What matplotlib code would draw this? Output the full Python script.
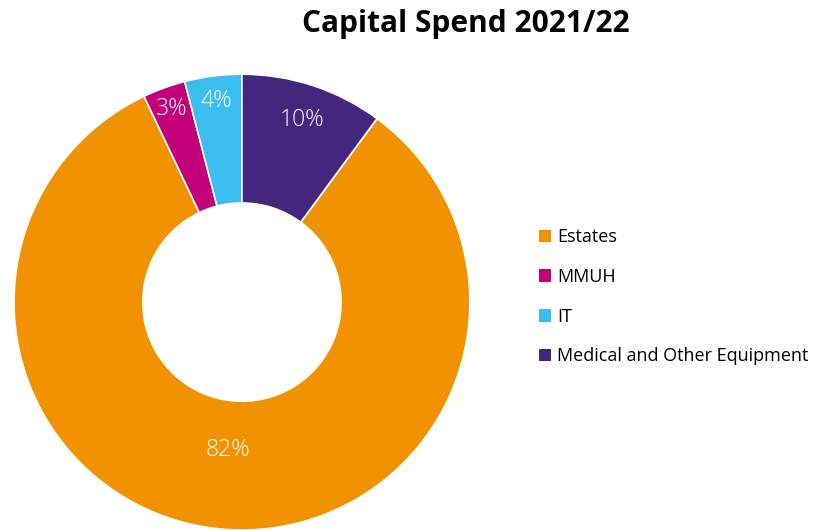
import numpy as np
import matplotlib.pyplot as plt
from matplotlib.patches import Patch

plt.rcParams['font.family'] = ['Open Sans', 'DejaVu Sans']

categories = ["Estates", "MMUH", "IT", "Medical and Other Equipment"]
shares = [82, 3, 4, 10]
pct_labels = ["82%", "3%", "4%", "10%"]
colors = ["#F39200", "#C2007A", "#3BBDEF", "#44267E"]
label_radius = [0.65, 0.90, 0.89, 0.84]

fig = plt.figure(figsize=(8.14, 5.30), dpi=100)
fig.patch.set_facecolor("white")

ax = fig.add_axes([0.0172, 0.0, 0.560, 0.860])
total = sum(shares)
# start so the last category (equipment) sits just right of 12 o'clock
start = 90 - 360 * shares[-1] / total
wedges, _ = ax.pie(shares, colors=colors, startangle=start, counterclock=False,
                   radius=1.0,
                   wedgeprops=dict(width=1 - 0.435, edgecolor="white", linewidth=1.2))
ax.set_xlim(-1, 1)
ax.set_ylim(-1, 1)
ax.set_aspect("equal")
ax.axis("off")

for w, lab, r in zip(wedges, pct_labels, label_radius):
    mid = np.deg2rad((w.theta1 + w.theta2) / 2)
    ax.text(r * np.cos(mid), r * np.sin(mid), lab, ha="center", va="center",
            color="white", fontsize=16.5, fontweight="light")

fig.text(0.572, 0.955, "Capital Spend 2021/22", ha="center", va="center",
         fontsize=21.5, fontweight="bold", color="black")

handles = [Patch(facecolor=c, edgecolor="none") for c in colors]
fig.legend(handles, categories, loc="center left", bbox_to_anchor=(0.642, 0.440),
           frameon=False, fontsize=13, handlelength=0.7, handleheight=0.7,
           handletextpad=0.3, labelspacing=1.2)

fig.savefig("out.png", dpi=100, facecolor="white")
